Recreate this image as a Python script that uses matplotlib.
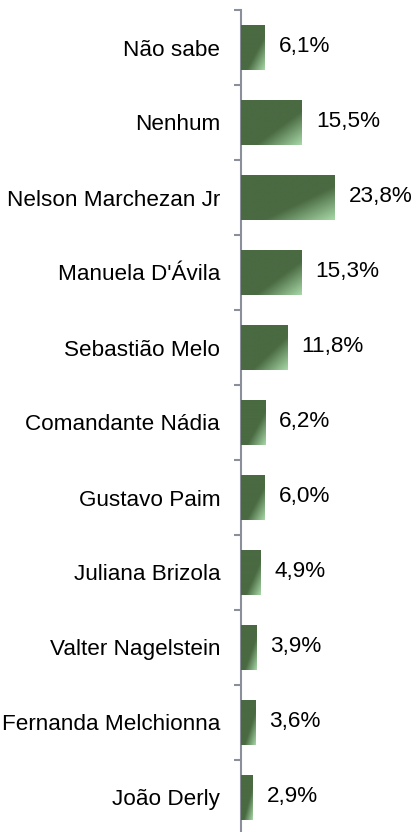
import numpy as np
import matplotlib
matplotlib.use('Agg')
import matplotlib.pyplot as plt
from matplotlib.colors import LinearSegmentedColormap

plt.rcParams['font.family'] = ['Liberation Sans', 'DejaVu Sans']

# data, top to bottom
candidates = ['Não sabe', 'Nenhum', 'Nelson Marchezan Jr', "Manuela D'Ávila",
              'Sebastião Melo', 'Comandante Nádia', 'Gustavo Paim',
              'Juliana Brizola', 'Valter Nagelstein', 'Fernanda Melchionna',
              'João Derly']
percent = [6.1, 15.5, 23.8, 15.3, 11.8, 6.2, 6.0, 4.9, 3.9, 3.6, 2.9]
value_labels = ['6,1%', '15,5%', '23,8%', '15,3%', '11,8%', '6,2%', '6,0%',
                '4,9%', '3,9%', '3,6%', '2,9%']

dark = '#4a6a42'
light = '#a8d9a8'
axis_grey = '#8a8f99'

fig = plt.figure(figsize=(4.2, 8.32), dpi=100)
ax = fig.add_axes([241 / 420, 1 - 835 / 832, 1 - 241 / 420, 825 / 832])

ypos = np.arange(len(candidates))
bars = ax.barh(ypos, percent, height=0.59, color=dark, edgecolor='none', zorder=2)

# diagonal gradient: dark over most of the bar, lighter toward bottom-right corner
cmap = LinearSegmentedColormap.from_list('bar_grad', [(0, dark), (0.62, dark), (1, light)])
u = np.linspace(0, 1, 200)
v = np.linspace(0, 1, 100)
U, V = np.meshgrid(u, v)
grad = (U + V) / 2
for bar in bars:
    x0, y0 = bar.get_x(), bar.get_y()
    w, h = bar.get_width(), bar.get_height()
    # y axis is inverted, so origin='lower' puts row 0 at the visual top
    im = ax.imshow(grad, cmap=cmap, vmin=0, vmax=1, aspect='auto',
                   extent=(x0, x0 + w, y0, y0 + h), origin='lower',
                   interpolation='bilinear', zorder=3)
    im.set_clip_path(bar)

for bar, lab in zip(bars, value_labels):
    ax.annotate(lab, (bar.get_width(), bar.get_y() + bar.get_height() / 2),
                xytext=(14, 1), textcoords='offset pixels',
                ha='left', va='center', fontsize=16.2, color='#000000')

ax.set_xlim(0, 179 / 3.93)
ax.set_ylim(len(candidates) - 0.5, -0.5)

ax.set_yticks(ypos)
ax.set_yticklabels(candidates, fontsize=16.2)
ax.tick_params(axis='y', which='major', length=0, pad=15)
ax.set_yticks(np.arange(len(candidates) + 1) - 0.5, minor=True)
ax.tick_params(axis='y', which='minor', length=5, width=1.5, color=axis_grey, direction='out')
ax.set_xticks([])

for side in ['top', 'right', 'bottom']:
    ax.spines[side].set_visible(False)
ax.spines['left'].set_color(axis_grey)
ax.spines['left'].set_linewidth(1.5)

fig.savefig('out.png', dpi=100, facecolor='white')
